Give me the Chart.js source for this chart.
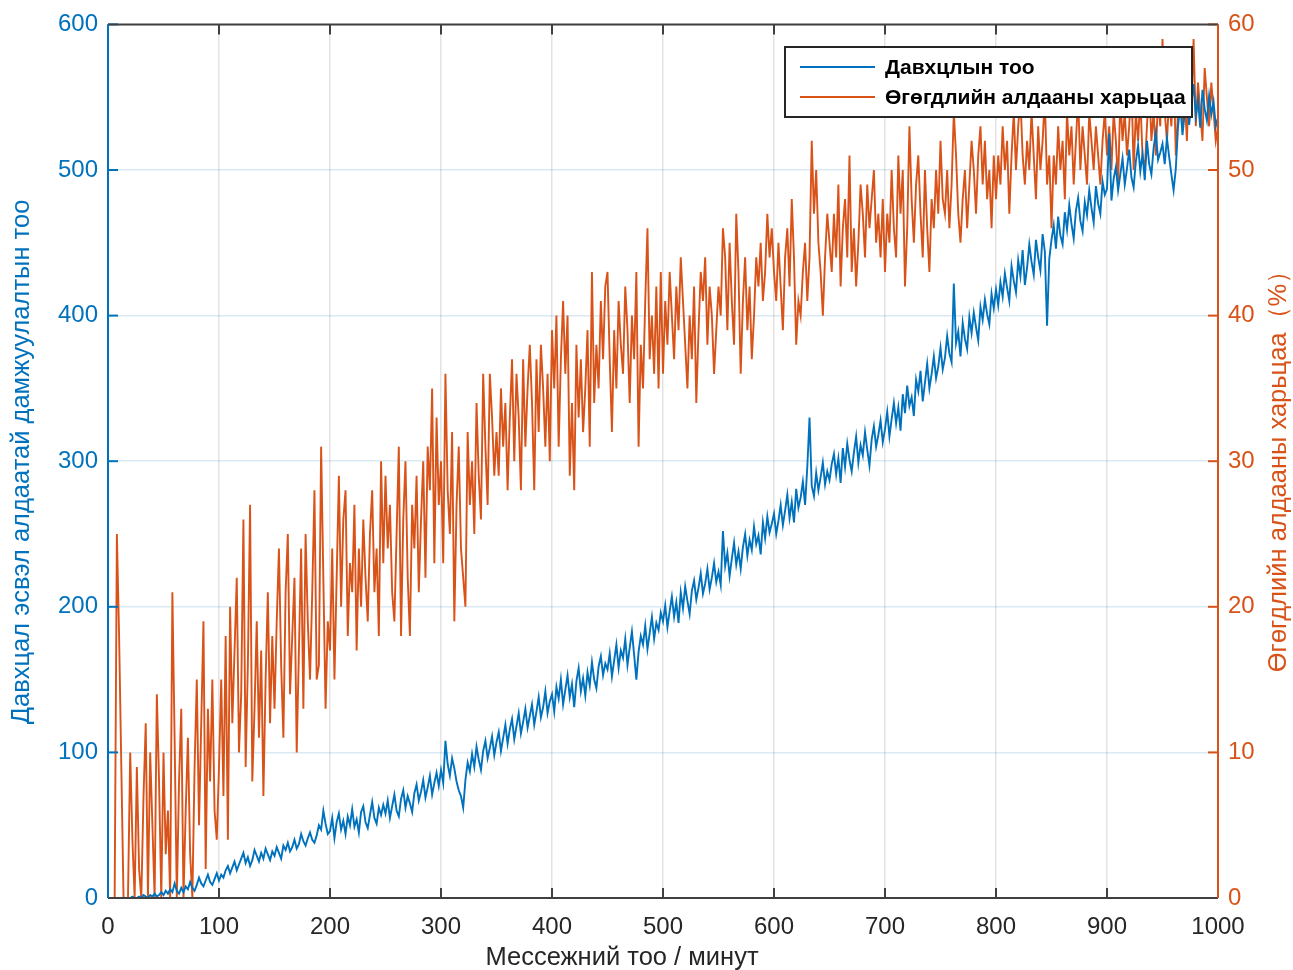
<!DOCTYPE html>
<html>
<head>
<meta charset="utf-8">
<script src="https://cdn.jsdelivr.net/npm/chart.js@4.4.0/dist/chart.umd.min.js"></script>
<style>
  html, body { margin: 0; padding: 0; background: #fff; }
  #wrap { width: 1293px; height: 970px; }
</style>
</head>
<body>
<div id="wrap"><canvas id="chart" width="1293" height="970"></canvas></div>
<script>
    // x: messages per minute
    const messageRate = [
        0, 2, 4, 6, 8, 10, 12, 14, 16, 18, 20, 22, 24, 26, 28, 30, 32, 34, 36, 38, 40, 42, 44, 46, 48,
        50, 52, 54, 56, 58, 60, 62, 64, 66, 68, 70, 72, 74, 76, 78, 80, 82, 84, 86, 88, 90, 92, 94, 96, 98,
        100, 102, 104, 106, 108, 110, 112, 114, 116, 118, 120, 122, 124, 126, 128, 130, 132, 134, 136, 138, 140, 142, 144, 146, 148,
        150, 152, 154, 156, 158, 160, 162, 164, 166, 168, 170, 172, 174, 176, 178, 180, 182, 184, 186, 188, 190, 192, 194, 196, 198,
        200, 202, 204, 206, 208, 210, 212, 214, 216, 218, 220, 222, 224, 226, 228, 230, 232, 234, 236, 238, 240, 242, 244, 246, 248,
        250, 252, 254, 256, 258, 260, 262, 264, 266, 268, 270, 272, 274, 276, 278, 280, 282, 284, 286, 288, 290, 292, 294, 296, 298,
        300, 302, 304, 306, 308, 310, 312, 314, 316, 318, 320, 322, 324, 326, 328, 330, 332, 334, 336, 338, 340, 342, 344, 346, 348,
        350, 352, 354, 356, 358, 360, 362, 364, 366, 368, 370, 372, 374, 376, 378, 380, 382, 384, 386, 388, 390, 392, 394, 396, 398,
        400, 402, 404, 406, 408, 410, 412, 414, 416, 418, 420, 422, 424, 426, 428, 430, 432, 434, 436, 438, 440, 442, 444, 446, 448,
        450, 452, 454, 456, 458, 460, 462, 464, 466, 468, 470, 472, 474, 476, 478, 480, 482, 484, 486, 488, 490, 492, 494, 496, 498,
        500, 502, 504, 506, 508, 510, 512, 514, 516, 518, 520, 522, 524, 526, 528, 530, 532, 534, 536, 538, 540, 542, 544, 546, 548,
        550, 552, 554, 556, 558, 560, 562, 564, 566, 568, 570, 572, 574, 576, 578, 580, 582, 584, 586, 588, 590, 592, 594, 596, 598,
        600, 602, 604, 606, 608, 610, 612, 614, 616, 618, 620, 622, 624, 626, 628, 630, 632, 634, 636, 638, 640, 642, 644, 646, 648,
        650, 652, 654, 656, 658, 660, 662, 664, 666, 668, 670, 672, 674, 676, 678, 680, 682, 684, 686, 688, 690, 692, 694, 696, 698,
        700, 702, 704, 706, 708, 710, 712, 714, 716, 718, 720, 722, 724, 726, 728, 730, 732, 734, 736, 738, 740, 742, 744, 746, 748,
        750, 752, 754, 756, 758, 760, 762, 764, 766, 768, 770, 772, 774, 776, 778, 780, 782, 784, 786, 788, 790, 792, 794, 796, 798,
        800, 802, 804, 806, 808, 810, 812, 814, 816, 818, 820, 822, 824, 826, 828, 830, 832, 834, 836, 838, 840, 842, 844, 846, 848,
        850, 852, 854, 856, 858, 860, 862, 864, 866, 868, 870, 872, 874, 876, 878, 880, 882, 884, 886, 888, 890, 892, 894, 896, 898,
        900, 902, 904, 906, 908, 910, 912, 914, 916, 918, 920, 922, 924, 926, 928, 930, 932, 934, 936, 938, 940, 942, 944, 946, 948,
        950, 952, 954, 956, 958, 960, 962, 964, 966, 968, 970, 972, 974, 976, 978, 980, 982, 984, 986, 988, 990, 992, 994, 996, 998,
        1000
    ];

    // left axis: collisions / erroneous transmissions
    const collisionCount = [
        0, 0, 0, 0, 0, 0, 0, 0, 0, 0, 0, 1, 0, 0, 1, 0, 2, 1, 0, 2, 1, 3, 1, 2, 4,
        2, 5, 3, 6, 4, 10, 5, 3, 7, 4, 8, 6, 11, 7, 5, 9, 14, 10, 8, 12, 16, 11, 9, 13, 17,
        12, 16, 14, 19, 22, 17, 21, 25, 19, 23, 27, 31, 24, 28, 22, 26, 33, 29, 25, 31, 27, 34, 30, 26, 32,
        29, 35, 31, 27, 36, 33, 38, 32, 35, 40, 34, 37, 44, 39, 36, 41, 45, 40, 38, 43, 50, 47, 60, 51, 44,
        46, 55, 41, 52, 58, 47, 53, 44, 56, 50, 61, 49, 54, 45, 59, 63, 52, 48, 57, 66, 55, 51, 62, 57, 64,
        58, 67, 55, 63, 71, 60, 56, 68, 74, 62, 70, 65, 59, 72, 78, 67, 73, 81, 69, 76, 84, 71, 79, 86, 77,
        88, 79, 108, 92, 84, 96, 89, 80, 74, 70, 62, 81, 93, 87, 99, 90, 104, 95, 88, 101, 108, 96, 103, 111, 98,
        107, 114, 101, 110, 119, 106, 116, 123, 109, 118, 127, 113, 121, 130, 117, 125, 133, 119, 128, 138, 124, 131, 142, 127, 135,
        140, 128, 145, 137, 150, 133, 143, 153, 138, 147, 131, 149, 158, 142, 151, 139, 155, 146, 162, 150, 144, 159, 166, 153, 161,
        157, 168, 152, 163, 174, 158, 170, 165, 178, 160, 172, 183, 167, 150, 169, 180, 174, 187, 171, 182, 193, 178, 189, 184, 196,
        190, 201, 186, 197, 207, 193, 203, 189, 210, 199, 214, 204, 195, 211, 218, 205, 213, 223, 209, 216, 226, 212, 220, 230, 217,
        224, 215, 252, 228, 237, 221, 233, 244, 229, 238, 226, 241, 250, 235, 246, 239, 255, 243, 249, 236, 258, 247, 262, 251, 257,
        264, 250, 259, 270, 256, 266, 277, 261, 272, 258, 281, 268, 275, 286, 270, 296, 330, 283, 276, 292, 280, 289, 299, 284, 293,
        287, 298, 305, 291, 302, 285, 309, 296, 312, 301, 293, 306, 317, 299, 311, 304, 320, 308, 297, 315, 324, 310, 318, 328, 313,
        322, 334, 317, 329, 340, 326, 337, 321, 346, 333, 352, 338, 344, 331, 356, 348, 362, 341, 354, 367, 350, 360, 372, 357, 365,
        378, 363, 371, 386, 374, 368, 422, 381, 389, 372, 395, 384, 377, 399, 388, 402, 392, 383, 406, 397, 411, 401, 394, 415, 405,
        418, 407, 423, 413, 429, 419, 410, 434, 424, 416, 438, 427, 445, 421, 433, 449, 437, 428, 452, 440, 431, 456, 444, 393, 439,
        452, 462, 446, 468, 455, 449, 471, 459, 476, 463, 453, 472, 481, 465, 458, 478, 469, 486, 474, 464, 489, 477, 470, 492, 483,
        487, 525, 479, 494, 502, 486, 497, 508, 490, 501, 514, 495, 488, 506, 517, 499, 511, 493, 520, 504, 497, 515, 526, 507, 512,
        518, 504, 522, 509, 497, 486, 501, 530, 545, 524, 539, 553, 531, 546, 559, 537, 548, 529, 555, 542, 534, 551, 538, 547, 530,
        536
    ];

    // right axis: data error ratio (%)
    const errorRatio = [
        0, 0, 0, 0, 25, 18, 9, 0, 0, 0, 10, 4, 0, 9, 2, 0, 7, 12, 0, 10, 5, 0, 14, 8, 0,
        10, 3, 6, 0, 21, 11, 0, 8, 13, 0, 6, 11, 3, 0, 9, 15, 5, 12, 19, 2, 13, 8, 15, 6, 4,
        9, 15, 7, 18, 4, 20, 12, 17, 22, 10, 14, 26, 9, 16, 27, 8, 13, 19, 11, 17, 7, 15, 21, 12, 18,
        13, 19, 24, 16, 11, 21, 25, 14, 18, 22, 10, 17, 24, 13, 25, 19, 15, 21, 28, 15, 16, 31, 22, 13, 19,
        17, 24, 15, 22, 29, 20, 26, 28, 18, 23, 21, 27, 17, 24, 20, 26, 22, 19, 25, 28, 21, 24, 18, 30, 23,
        29, 24, 27, 21, 19, 25, 31, 18, 26, 30, 22, 18, 27, 24, 29, 21, 26, 30, 22, 31, 28, 35, 23, 33, 27,
        30, 23, 36, 28, 25, 32, 19, 27, 31, 24, 22, 20, 32, 27, 30, 25, 34, 29, 26, 36, 31, 27, 36, 33, 29,
        32, 29, 35, 31, 34, 28, 33, 37, 30, 36, 33, 28, 37, 31, 35, 38, 34, 28, 37, 32, 38, 35, 31, 36, 30,
        39, 35, 40, 31, 37, 41, 36, 40, 29, 34, 28, 38, 33, 37, 32, 35, 39, 31, 43, 34, 38, 35, 41, 37, 42,
        43, 37, 32, 39, 35, 41, 38, 36, 42, 39, 34, 40, 37, 43, 31, 38, 35, 41, 46, 37, 40, 36, 42, 35, 43,
        36, 41, 38, 43, 40, 37, 42, 39, 44, 41, 38, 35, 40, 37, 42, 34, 39, 43, 41, 44, 38, 42, 40, 36, 39,
        42, 40, 46, 44, 39, 45, 41, 38, 47, 43, 36, 41, 44, 39, 42, 37, 40, 44, 42, 45, 41, 43, 47, 44, 46,
        43, 41, 45, 42, 39, 44, 46, 42, 48, 44, 38, 41, 40, 43, 45, 41, 44, 52, 47, 50, 45, 43, 40, 44, 47,
        45, 43, 47, 44, 49, 42, 46, 48, 44, 51, 43, 46, 42, 45, 49, 47, 44, 49, 46, 48, 50, 45, 47, 44, 48,
        43, 47, 45, 50, 46, 44, 51, 47, 50, 42, 46, 53, 48, 45, 49, 51, 47, 44, 50, 46, 43, 48, 46, 50, 47,
        52, 48, 47, 50, 46, 49, 54, 51, 47, 45, 48, 50, 46, 49, 52, 50, 47, 51, 53, 49, 52, 48, 50, 46, 51,
        48, 51, 49, 53, 50, 52, 47, 51, 54, 50, 53, 55, 51, 49, 52, 50, 54, 51, 48, 53, 50, 52, 55, 49, 51,
        46, 51, 49, 53, 50, 52, 48, 54, 51, 53, 49, 52, 55, 50, 53, 51, 49, 54, 52, 50, 53, 51, 49, 52, 54,
        51, 53, 50, 54, 52, 49, 55, 52, 54, 51, 53, 56, 50, 54, 52, 55, 51, 50, 53, 56, 52, 54, 51, 55, 53,
        59, 54, 52, 55, 53, 57, 51, 54, 56, 53, 55, 52, 57, 54, 59, 53, 56, 54, 52, 57, 55, 53, 56, 54, 52,
        53
    ];

    const xTicks = [0, 100, 200, 300, 400, 500, 600, 700, 800, 900, 1000];
    const leftTicks = [0, 100, 200, 300, 400, 500, 600];
    const rightTicks = [0, 10, 20, 30, 40, 50, 60];

    const seriesNames = ['Давхцлын тоо', 'Өгөгдлийн алдааны харьцаа'];
    const xTitle = 'Мессежний тоо / минут';
    const leftTitle = 'Давхцал эсвэл алдаатай дамжуулалтын тоо';
    const rightTitle = 'Өгөгдлийн алдааны харьцаа（%）';

    const BLUE = '#0072BD';
    const ORANGE = '#D95319';
    const DARK = '#404040';
    const FONT = '"Liberation Sans", Arial, sans-serif';

    // frame with inward ticks, axis titles and the boxed legend
    const matlabFrame = {
        id: 'matlabFrame',
        afterDraw(chart) {
            const ctx = chart.ctx;
            const a = chart.chartArea;
            const sx = chart.scales.x, sy = chart.scales.y, sy1 = chart.scales.y1;
            const tick = 10;
            const seg = (x1, y1, x2, y2, color, w) => {
                ctx.strokeStyle = color;
                ctx.lineWidth = w;
                ctx.beginPath();
                ctx.moveTo(x1, y1);
                ctx.lineTo(x2, y2);
                ctx.stroke();
            };
            ctx.save();

            xTicks.forEach(v => {
                const px = sx.getPixelForValue(v);
                seg(px, a.bottom, px, a.bottom - tick, DARK, 2);
                seg(px, a.top, px, a.top + tick, DARK, 2);
            });
            leftTicks.forEach(v => {
                const py = sy.getPixelForValue(v);
                seg(a.left, py, a.left + tick, py, BLUE, 2);
            });
            rightTicks.forEach(v => {
                const py = sy1.getPixelForValue(v);
                seg(a.right, py, a.right - tick, py, ORANGE, 2);
            });

            seg(a.left, a.top, a.right, a.top, DARK, 2);
            seg(a.left, a.bottom, a.right, a.bottom, DARK, 2);
            seg(a.left, a.top, a.left, a.bottom, BLUE, 2);
            seg(a.right, a.top, a.right, a.bottom, ORANGE, 2);

            // axis titles
            ctx.textAlign = 'center';
            ctx.textBaseline = 'middle';
            ctx.font = '25.5px ' + FONT;
            ctx.fillStyle = '#262626';
            ctx.fillText(xTitle, 622, 958);

            ctx.save();
            ctx.translate(22, 462);
            ctx.rotate(-Math.PI / 2);
            ctx.fillStyle = BLUE;
            ctx.fillText(leftTitle, 0, 0);
            ctx.restore();

            ctx.save();
            ctx.translate(1279, 465);
            ctx.rotate(-Math.PI / 2);
            ctx.fillStyle = ORANGE;
            ctx.fillText(rightTitle, 0, 0);
            ctx.restore();

            // legend box
            const lx = 785, ly = 47, lw = 407, lh = 70;
            ctx.fillStyle = '#ffffff';
            ctx.fillRect(lx, ly, lw, lh);
            ctx.strokeStyle = '#262626';
            ctx.lineWidth = 2;
            ctx.strokeRect(lx, ly, lw, lh);
            const rows = [ly + 20, ly + 50];
            const colors = [BLUE, ORANGE];
            ctx.textAlign = 'left';
            ctx.font = 'bold 21px ' + FONT;
            rows.forEach((ry, i) => {
                seg(lx + 15, ry, lx + 90, ry, colors[i], 2);
                ctx.fillStyle = '#000000';
                ctx.fillText(seriesNames[i], lx + 100, ry + 1);
            });

            ctx.restore();
        }
    };

    const ctx = document.getElementById('chart').getContext('2d');
    new Chart(ctx, {
        type: 'line',
        data: {
            datasets: [
                {
                    label: seriesNames[0],
                    data: messageRate.map((x, i) => ({ x: x, y: collisionCount[i] })),
                    yAxisID: 'y',
                    borderColor: BLUE,
                    borderWidth: 1.9,
                    pointRadius: 0,
                    tension: 0,
                    fill: false
                },
                {
                    label: seriesNames[1],
                    data: messageRate.map((x, i) => ({ x: x, y: errorRatio[i] })),
                    yAxisID: 'y1',
                    borderColor: ORANGE,
                    borderWidth: 1.9,
                    pointRadius: 0,
                    tension: 0,
                    fill: false
                }
            ]
        },
        options: {
            responsive: false,
            animation: false,
            layout: { padding: { top: 23, left: 0, right: 0, bottom: 0 } },
            plugins: {
                legend: { display: false },
                tooltip: { enabled: false }
            },
            scales: {
                x: {
                    type: 'linear',
                    min: 0,
                    max: 1000,
                    afterBuildTicks: s => { s.ticks = xTicks.map(v => ({ value: v })); },
                    ticks: {
                        color: '#262626', font: { family: FONT, size: 24 }, padding: 15,
                        maxRotation: 0, autoSkip: false,
                        callback: v => String(v)
                    },
                    grid: { color: 'rgba(38,38,38,0.13)', lineWidth: 1.5, drawTicks: false },
                    border: { display: false },
                    afterFit: s => { s.height = 72; }
                },
                y: {
                    position: 'left',
                    min: 0,
                    max: 600,
                    afterBuildTicks: s => { s.ticks = leftTicks.map(v => ({ value: v })); },
                    ticks: { color: BLUE, font: { family: FONT, size: 24 }, padding: 10 },
                    grid: { color: 'rgba(0,114,189,0.15)', lineWidth: 1.5, drawTicks: false },
                    border: { display: false },
                    afterFit: s => { s.width = 108; }
                },
                y1: {
                    position: 'right',
                    min: 0,
                    max: 60,
                    afterBuildTicks: s => { s.ticks = rightTicks.map(v => ({ value: v })); },
                    ticks: { color: ORANGE, font: { family: FONT, size: 24 }, padding: 10 },
                    grid: { display: false, drawTicks: false },
                    border: { display: false },
                    afterFit: s => { s.width = 75; }
                }
            }
        },
        plugins: [matlabFrame]
    });
</script>
</body>
</html>
